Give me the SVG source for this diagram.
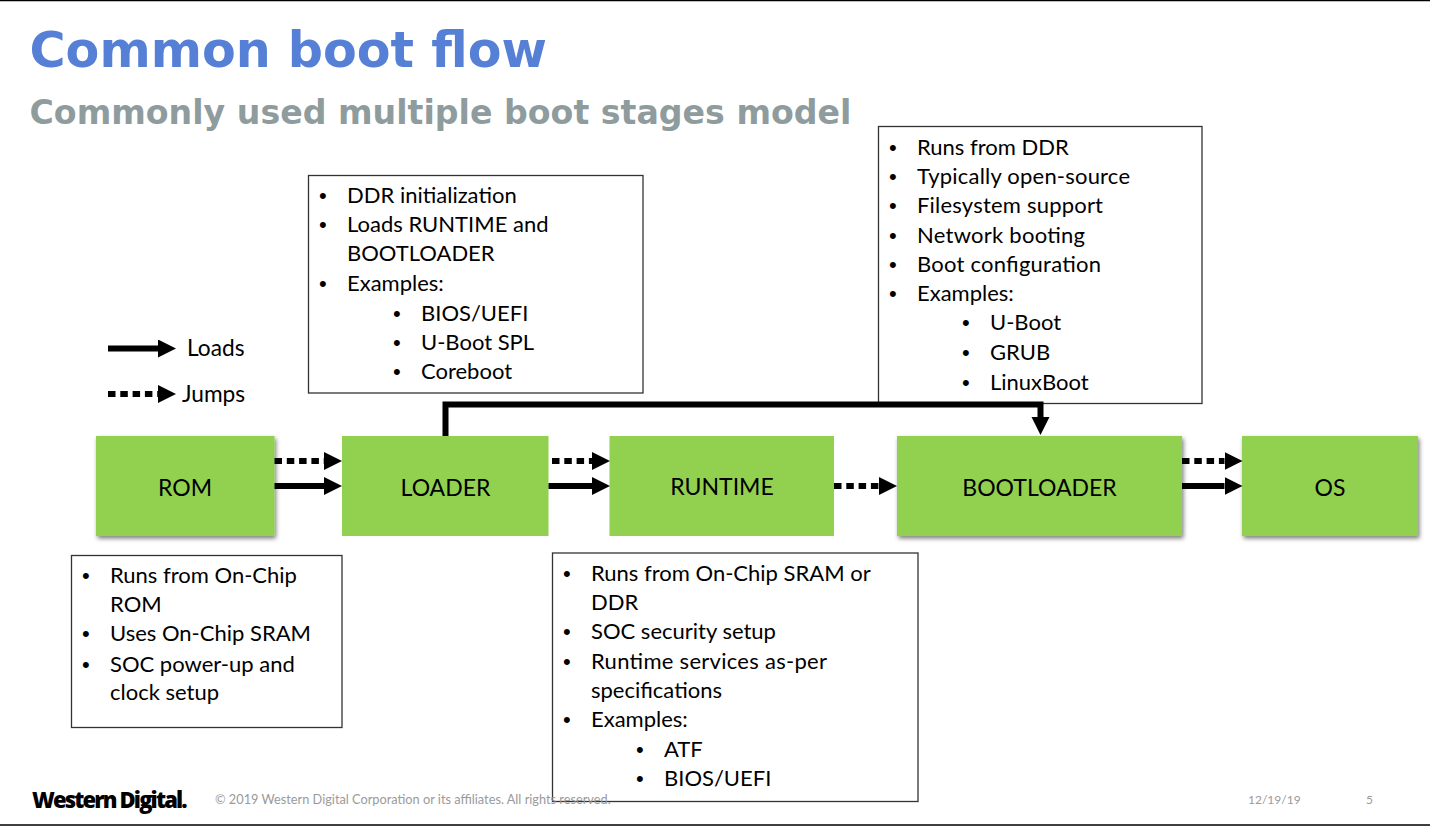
<svg xmlns="http://www.w3.org/2000/svg" width="1430" height="826" viewBox="0 0 1430 826">
<style>
text{font-family:Lato,"Open Sans",sans-serif;font-size:22px;fill:#000}
.h{font-family:"DejaVu Sans",sans-serif;font-weight:700}
.box{fill:#fff;stroke:#333;stroke-width:1.3}
.node{fill:#92d050}
.lbl{text-anchor:middle;font-size:23px}
.leg{font-size:22.7px}
.b{font-family:"Liberation Sans",sans-serif}
.c{fill:none;stroke:#000;stroke-width:6}
.d{stroke-dasharray:7.5 4.8}
.ft{font-size:12.75px;fill:#9a9a9a}
.dt{font-size:12px;fill:#9a9a9a}
</style>
<defs>
<marker id="a" markerUnits="userSpaceOnUse" markerWidth="20" markerHeight="20" refX="0" refY="9" orient="auto"><path d="M0 0L18 9L0 18Z" fill="#000"/></marker>
<filter id="s" x="-10%" y="-10%" width="125%" height="125%"><feDropShadow dx="1.5" dy="2.5" stdDeviation="2" flood-color="#000" flood-opacity=".5"/></filter>
</defs>
<rect width="1430" height="826" fill="#fff"/>
<path d="M0 .5H1430M0 825H1430" stroke="#000" stroke-width="1.5"/>
<text class="h" x="29.500" y="67" style="font-size:49.200px;fill:#5580d6">Common boot flow</text>
<text class="h" x="29.500" y="124" style="font-size:33.200px;fill:#8f9c9e">Commonly used multiple boot stages model</text>

<g id="legend">
<text class="leg" x="187" y="356">Loads</text>
<text class="leg" x="182" y="402">Jumps</text>
</g>

<g id="note-rom">
<rect class="box" x="71.500" y="555.500" width="270.500" height="172"/>
<text class="b" x="82" y="582.500">•</text><text x="110" y="582.500">Runs from On-Chip</text>
<text x="110" y="612">ROM</text>
<text class="b" x="82" y="641">•</text><text x="110" y="641">Uses On-Chip SRAM</text>
<text class="b" x="82" y="672">•</text><text x="110" y="672">SOC power-up and</text>
<text x="110" y="700">clock setup</text>
</g>

<g id="note-loader">
<rect class="box" x="308.500" y="175.500" width="334.500" height="217.500"/>
<text class="b" x="319" y="203">•</text><text x="347" y="203">DDR initialization</text>
<text class="b" x="319" y="232">•</text><text x="347" y="232">Loads RUNTIME and</text>
<text x="347" y="261">BOOTLOADER</text>
<text class="b" x="319" y="291">•</text><text x="347" y="291">Examples:</text>
<text class="b" x="393" y="320.500">•</text><text x="421" y="320.500">BIOS/UEFI</text>
<text class="b" x="393" y="350">•</text><text x="421" y="350">U-Boot SPL</text>
<text class="b" x="393" y="379">•</text><text x="421" y="379">Coreboot</text>
</g>

<g id="note-bootloader">
<rect class="box" x="878.500" y="126.500" width="323.500" height="277"/>
<text class="b" x="889" y="155">•</text><text x="917" y="155">Runs from DDR</text>
<text class="b" x="889" y="184">•</text><text x="917" y="184" textLength="213">Typically open-source</text>
<text class="b" x="889" y="213">•</text><text x="917" y="213" textLength="186">Filesystem support</text>
<text class="b" x="889" y="242.500">•</text><text x="917" y="242.500" textLength="168">Network booting</text>
<text class="b" x="889" y="272">•</text><text x="917" y="272" textLength="184">Boot configuration</text>
<text class="b" x="889" y="301">•</text><text x="917" y="301">Examples:</text>
<text class="b" x="962" y="330">•</text><text x="990" y="330">U-Boot</text>
<text class="b" x="962" y="360">•</text><text x="990" y="360">GRUB</text>
<text class="b" x="962" y="390">•</text><text x="990" y="390">LinuxBoot</text>
</g>

<g id="note-runtime">
<rect class="box" x="552.500" y="553" width="365.500" height="248.500"/>
<text class="b" x="563" y="581">•</text><text x="591" y="581">Runs from On-Chip SRAM or</text>
<text x="591" y="610">DDR</text>
<text class="b" x="563" y="639">•</text><text x="591" y="639">SOC security setup</text>
<text class="b" x="563" y="669">•</text><text x="591" y="669" textLength="236">Runtime services as-per</text>
<text x="591" y="698">specifications</text>
<text class="b" x="563" y="727">•</text><text x="591" y="727">Examples:</text>
<text class="b" x="636" y="757">•</text><text x="664" y="757">ATF</text>
<text class="b" x="636" y="786">•</text><text x="664" y="786">BIOS/UEFI</text>
</g>

<g id="footer">
<text x="32" y="808" style="font-size:22px;font-weight:800;font-family:'Open Sans',sans-serif;letter-spacing:-1.850px">Western Digital.</text>
<text class="ft" x="215" y="804">© 2019 Western Digital Corporation or its affiliates. All rights reserved.</text>
<text class="dt" x="1248" y="804">12/19/19</text>
<text class="dt" x="1366" y="804">5</text>
</g>

<g id="rom"><rect class="node" x="96" y="436" width="178.500" height="100" filter="url(#s)"/><text class="lbl" x="185" y="495.500">ROM</text></g>
<g id="loader"><rect class="node" x="342" y="436" width="206.500" height="100"/><text class="lbl" x="445.500" y="495.500">LOADER</text></g>
<g id="runtime"><rect class="node" x="609.500" y="436" width="224.500" height="100"/><text class="lbl" x="722" y="494.500">RUNTIME</text></g>
<g id="bootloader"><rect class="node" x="897" y="436" width="285" height="100" filter="url(#s)"/><text class="lbl" x="1039.500" y="495.500">BOOTLOADER</text></g>
<g id="os"><rect class="node" x="1242" y="436" width="176" height="100" filter="url(#s)"/><text class="lbl" x="1330" y="495.500">OS</text></g>

<g id="connectors">
<path class="c" d="M108 348.500H158" marker-end="url(#a)"/>
<path class="c d" d="M108 394H158" marker-end="url(#a)"/>
<path class="c d" d="M274.500 461H324" marker-end="url(#a)"/>
<path class="c" d="M274.500 486H324" marker-end="url(#a)"/>
<path class="c d" d="M552 461H592" marker-end="url(#a)"/>
<path class="c" d="M548.500 486H592" marker-end="url(#a)"/>
<path class="c d" d="M834 486H879" marker-end="url(#a)"/>
<path class="c d" d="M1182 461H1224.500" marker-end="url(#a)"/>
<path class="c" d="M1182 486H1224.500" marker-end="url(#a)"/>
<path class="c" d="M445.500 436V404.500H1040.500V417" marker-end="url(#a)"/>
</g>
</svg>
